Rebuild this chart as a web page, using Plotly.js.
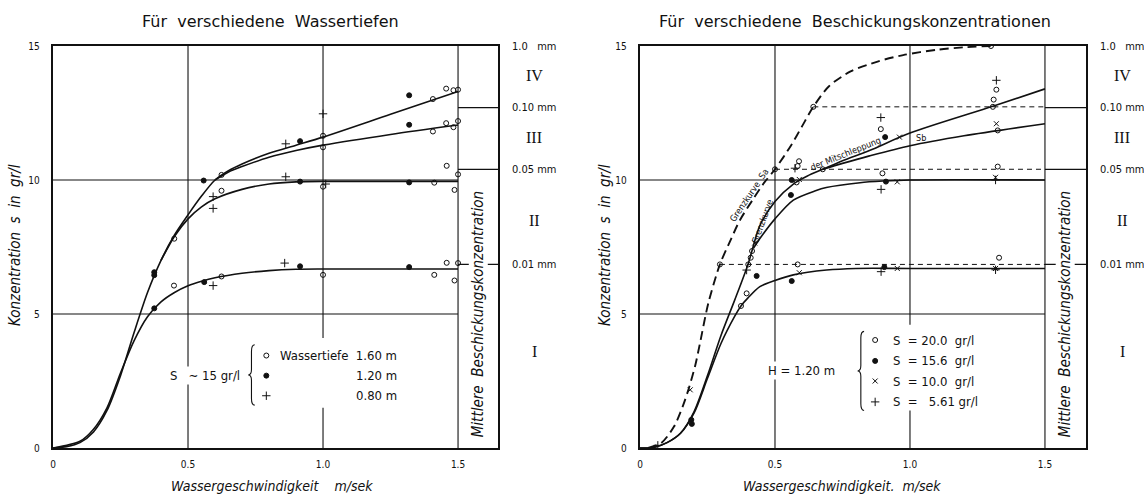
<!DOCTYPE html>
<html><head><meta charset="utf-8">
<script src="https://cdn.plot.ly/plotly-3.0.1.min.js"></script>
<style>body{margin:0;background:#fff}#chart{width:1144px;height:495px}</style>
</head><body><div id="chart"></div>
<script>
// ---------- DATA ----------
const xTickVals = [0, 0.5, 1.0, 1.5];
const xTickText = ["0", "0.5", "1.0", "1.5"];
const yTickVals = [0, 5, 10, 15];
const yTickText = ["0", "5", "10", "15"];

const sizeLevels = [15, 12.7, 10.4, 6.85];
const sizeLabels = ["1.0\u00a0\u00a0\u00a0mm", "0.10 mm", "0.05 mm", "0.01 mm"];
const zoneLevels = [13.9, 11.6, 8.5, 3.6];
const zoneLabels = ["IV", "III", "II", "I"];

// Left panel curves
const leftA_x = [0, 0.05, 0.1, 0.15, 0.2, 0.25, 0.3, 0.35, 0.4, 0.45, 0.5, 0.55, 0.6, 0.65, 0.7, 0.8, 0.9, 1.0, 1.25, 1.5];
const leftA_y = [0, 0.05, 0.2, 0.6, 1.4, 2.7, 4.3, 5.8, 7.0, 7.95, 8.7, 9.4, 10.0, 10.35, 10.6, 11.0, 11.3, 11.6, 12.45, 13.3];
const leftA2_x = [0.6, 0.65, 0.7, 0.8, 0.9, 1.0, 1.25, 1.5];
const leftA2_y = [10.0, 10.3, 10.5, 10.85, 11.1, 11.3, 11.7, 12.05];
const leftB_x = [0.4, 0.45, 0.5, 0.55, 0.6, 0.7, 0.8, 0.9, 1.0, 1.5];
const leftB_y = [7.0, 7.9, 8.55, 9.0, 9.3, 9.65, 9.85, 9.93, 9.95, 9.95];
const leftC_x = [0, 0.1, 0.15, 0.2, 0.25, 0.3, 0.35, 0.4, 0.45, 0.5, 0.55, 0.6, 0.7, 0.8, 0.9, 1.0, 1.5];
const leftC_y = [0, 0.25, 0.7, 1.5, 2.8, 4.0, 4.9, 5.45, 5.8, 6.05, 6.22, 6.35, 6.52, 6.62, 6.67, 6.68, 6.68];

// Left panel points
const depth160_x = [0.449, 0.448, 0.624, 0.624, 0.624, 1.0, 1.0, 1.0, 1.0, 1.407, 1.456, 1.483, 1.5, 1.407, 1.456, 1.483, 1.5, 1.412, 1.458, 1.5, 1.487, 1.412, 1.458, 1.5, 1.487];
const depth160_y = [7.81, 6.06, 10.19, 9.6, 6.4, 11.65, 11.22, 9.75, 6.46, 13.02, 13.41, 13.35, 13.37, 11.81, 12.12, 11.97, 12.2, 9.9, 10.53, 10.21, 9.63, 6.46, 6.91, 6.9, 6.25];
const depth120_x = [0.375, 0.375, 0.375, 0.558, 0.56, 0.915, 0.915, 0.915, 1.319, 1.319, 1.319, 1.319];
const depth120_y = [6.56, 6.45, 5.21, 9.98, 6.19, 11.45, 9.94, 6.78, 13.16, 12.06, 9.91, 6.75];
const depth080_x = [0.593, 0.593, 0.593, 0.862, 0.862, 0.858, 1.0, 1.01];
const depth080_y = [9.38, 8.94, 6.06, 11.35, 10.12, 6.9, 12.47, 9.85];

// Right panel curves
const rightU_x = [0, 0.05, 0.1, 0.15, 0.2, 0.25, 0.3, 0.35, 0.4, 0.444, 0.5, 0.568, 0.62, 0.677, 0.75, 0.85, 1.0, 1.307, 1.5];
const rightU_y = [0, 0.02, 0.2, 0.55, 1.35, 2.7, 4.2, 5.5, 6.85, 8.3, 9.2, 9.85, 10.15, 10.4, 10.72, 11.1, 11.75, 12.75, 13.4];
const rightU2_x = [0.677, 0.75, 0.85, 1.0, 1.2, 1.5];
const rightU2_y = [10.4, 10.62, 10.9, 11.28, 11.65, 12.1];
const rightM_x = [0.42, 0.45, 0.5, 0.568, 0.65, 0.69, 0.815, 0.9, 1.0, 1.5];
const rightM_y = [7.45, 7.9, 8.55, 9.25, 9.6, 9.72, 9.9, 9.96, 10.0, 10.0];
const rightL_x = [0, 0.05, 0.1, 0.15, 0.2, 0.25, 0.3, 0.35, 0.374, 0.4, 0.444, 0.5, 0.568, 0.691, 0.8, 1.0, 1.5];
const rightL_y = [0, 0.02, 0.2, 0.55, 1.3, 2.6, 3.9, 4.9, 5.3, 5.6, 6.02, 6.25, 6.46, 6.64, 6.7, 6.7, 6.7];
const rightSa_x = [0.03, 0.08, 0.126, 0.16, 0.18, 0.205, 0.222, 0.253, 0.296, 0.333, 0.37, 0.42, 0.46, 0.5, 0.56, 0.6, 0.642, 0.7, 0.78, 0.88, 0.975, 1.1, 1.2, 1.3];
const rightSa_y = [0, 0.2, 0.8, 1.6, 2.2, 3.1, 3.9, 5.4, 6.85, 7.7, 8.5, 9.3, 9.9, 10.4, 11.3, 12.0, 12.73, 13.5, 14.05, 14.42, 14.66, 14.86, 14.95, 15.0];
const dashLevels = [6.85, 10.4, 12.73];
const dashStarts = [0.296, 0.5, 0.642];

// Right panel points
const s200_x = [0.296, 0.401, 0.5, 0.677, 0.642, 1.307, 1.30, 0.374, 0.395, 0.41, 0.415, 0.58, 0.584, 0.589, 0.584, 0.898, 0.892, 1.32, 1.31, 1.325, 1.325, 1.33];
const s200_y = [6.85, 6.85, 10.4, 10.4, 12.73, 12.73, 15.0, 5.3, 5.77, 7.1, 7.35, 9.91, 10.52, 10.7, 6.85, 10.25, 11.9, 13.37, 13.0, 11.85, 10.5, 7.1];
const s156_x = [0.19, 0.192, 0.432, 0.559, 0.562, 0.562, 0.908, 0.911, 0.905];
const s156_y = [1.05, 0.9, 6.42, 9.44, 10.0, 6.23, 11.6, 9.94, 6.75];
const s100_x = [0.186, 0.425, 0.59, 0.59, 0.961, 0.953, 0.953, 1.317, 1.317, 1.32];
const s100_y = [2.17, 7.65, 10.02, 6.54, 11.6, 9.93, 6.7, 10.1, 6.7, 12.1];
const s561_x = [0.066, 0.395, 0.574, 0.893, 0.892, 0.893, 1.32, 1.317, 1.317];
const s561_y = [0.1, 6.64, 10.44, 9.65, 12.33, 6.58, 13.72, 10.0, 6.65];

// ---------- STYLE / LAYOUT ----------
const W = 1144, H = 495;
const FONT = "DejaVu Sans Condensed, DejaVu Sans, sans-serif";
const FONTW = "DejaVu Sans, sans-serif";
const SERIF = "Liberation Serif, DejaVu Serif, serif";
const XR = [0, 1.648];
const XR2 = [0, 1.652];
const black = "#111";
const panels = [{left: 53, right: 498}, {left: 640, right: 1086}];
const plotTop = 46, plotBottom = 448;
const yPix = v => plotBottom - v * (plotBottom - plotTop) / 15;
const px = v => v / W, py = v => 1 - v / H;

function line(x, y, xa, ya, dash, w) {
  return {x, y, xaxis: xa, yaxis: ya, mode: "lines", type: "scatter", hoverinfo: "skip",
    line: {color: black, width: w || 1.6, dash: dash || "solid", shape: "spline", smoothing: 0.8}, showlegend: false};
}
function pts(x, y, xa, ya, sym, size, lw) {
  return {x, y, xaxis: xa, yaxis: ya, mode: "markers", type: "scatter", hoverinfo: "skip", showlegend: false,
    marker: {symbol: sym, size: size, color: black, line: {color: black, width: lw || 1}}};
}

const traces = [];
traces.push(line(leftA_x, leftA_y, "x", "y"));
traces.push(line(leftA2_x, leftA2_y, "x", "y"));
traces.push(line(leftB_x, leftB_y, "x", "y"));
traces.push(line(leftC_x, leftC_y, "x", "y"));
traces.push(pts(depth160_x, depth160_y, "x", "y", "circle-open", 5, 1));
traces.push(pts(depth120_x, depth120_y, "x", "y", "circle", 5, 0));
traces.push(pts(depth080_x, depth080_y, "x", "y", "cross-thin-open", 6, 1));

traces.push(line(rightU_x, rightU_y, "x2", "y2"));
traces.push(line(rightU2_x, rightU2_y, "x2", "y2"));
traces.push(line(rightM_x, rightM_y, "x2", "y2"));
traces.push(line(rightL_x, rightL_y, "x2", "y2"));
traces.push(line(rightSa_x, rightSa_y, "x2", "y2", "9px,5px", 1.9));
dashLevels.forEach((lv, i) => {
  traces.push({x: [dashStarts[i], 1.5], y: [lv, lv], xaxis: "x2", yaxis: "y2", mode: "lines", type: "scatter",
    hoverinfo: "skip", showlegend: false, line: {color: black, width: 1, dash: "5px,4px"}});
});
traces.push(pts(s200_x, s200_y, "x2", "y2", "circle-open", 5, 1));
traces.push(pts(s156_x, s156_y, "x2", "y2", "circle", 5, 0));
traces.push(pts(s100_x, s100_y, "x2", "y2", "x-thin-open", 5, 1));
traces.push(pts(s561_x, s561_y, "x2", "y2", "cross-thin-open", 6, 1));

const legL = {x: 0.79, ys: [3.45, 2.7, 1.95]};
const legR = {x: 0.871, ys: [4.03, 3.25, 2.5, 1.72]};
traces.push(pts([legL.x], [legL.ys[0]], "x", "y", "circle-open", 5, 1));
traces.push(pts([legL.x], [legL.ys[1]], "x", "y", "circle", 5, 0));
traces.push(pts([legL.x], [legL.ys[2]], "x", "y", "cross-thin-open", 6, 1));
traces.push(pts([legR.x], [legR.ys[0]], "x2", "y2", "circle-open", 5, 1));
traces.push(pts([legR.x], [legR.ys[1]], "x2", "y2", "circle", 5, 0));
traces.push(pts([legR.x], [legR.ys[2]], "x2", "y2", "x-thin-open", 5, 1));
traces.push(pts([legR.x], [legR.ys[3]], "x2", "y2", "cross-thin-open", 6, 1));

const shapes = [];
const annotations = [];

function brace(xr, x0, ybot, ytop, w) {
  const ym = (ybot + ytop) / 2;
  const p = `M ${x0 + w},${ytop} Q ${x0},${ytop} ${x0},${ytop - 0.25} L ${x0},${ym + 0.2} Q ${x0},${ym} ${x0 - w},${ym} ` +
    `Q ${x0},${ym} ${x0},${ym - 0.2} L ${x0},${ybot + 0.25} Q ${x0},${ybot} ${x0 + w},${ybot}`;
  return {type: "path", xref: xr, yref: xr === "x" ? "y" : "y2", path: p, line: {color: black, width: 1.1}};
}

[["x", "y", XR[1], panels[0]], ["x2", "y2", XR2[1], panels[1]]].forEach(([xr, yr, xmax, pan]) => {
  [0.5, 1.0, 1.5].forEach(v => shapes.push({type: "line", xref: xr, yref: yr, x0: v, x1: v, y0: 0, y1: 15,
    layer: "below", line: {color: black, width: 1.1}}));
  [5, 10].forEach(v => shapes.push({type: "line", xref: xr, yref: yr, x0: 0, x1: 1.5, y0: v, y1: v,
    layer: "below", line: {color: black, width: 1.1}}));
  sizeLevels.slice(1).forEach(v => shapes.push({type: "line", xref: xr, yref: yr, x0: 1.5, x1: xmax, y0: v, y1: v,
    layer: "below", line: {color: black, width: 1.3}}));
  sizeLevels.forEach((v, i) => annotations.push({xref: "paper", yref: "paper", x: px(pan.right + 12), y: py(yPix(v)),
    text: sizeLabels[i], showarrow: false, xanchor: "left", yanchor: "middle",
    font: {family: FONT, size: 11, color: black}}));
  zoneLevels.forEach((v, i) => annotations.push({xref: "paper", yref: "paper", x: px(pan.right + 36), y: py(yPix(v)),
    text: zoneLabels[i], showarrow: false, xanchor: "center", yanchor: "middle",
    font: {family: SERIF, size: 16, color: black}}));
  annotations.push({xref: xr, yref: yr, x: 1.575, y: 5.0, text: "Mittlere\u00a0\u00a0Beschickungskonzentration",
    textangle: -90, showarrow: false, bgcolor: "#fff", borderpad: 0, xanchor: "center", yanchor: "middle",
    font: {family: FONT, size: 15, color: black, style: "italic"}});
});

shapes.push({type: "rect", xref: "x", yref: "y", x0: 0.75, x1: 1.3, y0: 1.5, y1: 4.1, layer: "below",
  fillcolor: "#fff", line: {width: 0}});
shapes.push({type: "rect", xref: "x2", yref: "y2", x0: 0.83, x1: 1.3, y0: 1.4, y1: 4.6, layer: "below",
  fillcolor: "#fff", line: {width: 0}});
shapes.push(brace("x", 0.735, 1.6, 3.85, 0.012));
shapes.push(brace("x2", 0.818, 1.4, 4.35, 0.012));

const lgFont = {family: FONT, size: 13, color: black};
const ann = o => annotations.push(Object.assign({showarrow: false, xanchor: "center", yanchor: "middle"}, o));
ann({xref: "x", yref: "y", x: 1.28, y: legL.ys[0], xanchor: "right", text: "Wassertiefe\u00a0 1.60 m", font: lgFont});
ann({xref: "x", yref: "y", x: 1.28, y: legL.ys[1], xanchor: "right", text: "1.20 m", font: lgFont});
ann({xref: "x", yref: "y", x: 1.28, y: legL.ys[2], xanchor: "right", text: "0.80 m", font: lgFont});
ann({xref: "x", yref: "y", x: 0.7, y: 2.7, xanchor: "right", text: "S\u00a0\u00a0\u00a0∼ 15 gr/l", font: lgFont, bgcolor: "#fff"});

const rLeg = ["S\u00a0\u00a0=\u00a020.0\u00a0\u00a0gr/l", "S\u00a0\u00a0=\u00a015.6\u00a0\u00a0gr/l",
  "S\u00a0\u00a0=\u00a010.0\u00a0\u00a0gr/l", "S\u00a0\u00a0=\u00a0\u00a0\u00a05.61\u00a0gr/l"];
rLeg.forEach((t, i) => ann({xref: "x2", yref: "y2", x: 0.93, y: legR.ys[i], xanchor: "left", text: t, font: lgFont}));
ann({xref: "x2", yref: "y2", x: 0.6, y: 2.88, text: "H = 1.20 m", font: lgFont, bgcolor: "#fff"});

const cl = {family: FONT, size: 9, color: black};
ann({xref: "x2", yref: "y2", x: 0.405, y: 9.45, text: "Grenzkurve\u00a0 Sa", textangle: -56, font: cl});
ann({xref: "x2", yref: "y2", x: 0.452, y: 8.45, text: "Grenzkurve", textangle: -70, font: cl});
ann({xref: "x2", yref: "y2", x: 0.76, y: 10.98, text: "der Mitschleppung", textangle: -22, font: cl});
ann({xref: "x2", yref: "y2", x: 1.04, y: 11.55, text: "Sb", font: cl});

const tF = {family: FONTW, size: 16, color: black};
ann({xref: "paper", yref: "paper", x: px(270), y: py(21), text: "Für\u00a0\u00a0verschiedene\u00a0\u00a0Wassertiefen", font: tF});
ann({xref: "paper", yref: "paper", x: px(855), y: py(21), text: "Für\u00a0\u00a0verschiedene\u00a0\u00a0Beschickungskonzentrationen", font: tF});
const itF = {family: FONT, size: 14, color: black, style: "italic"};
ann({xref: "paper", yref: "paper", x: px(272), y: py(486), text: "Wassergeschwindigkeit\u00a0\u00a0\u00a0\u00a0m/sek", font: itF});
ann({xref: "paper", yref: "paper", x: px(842), y: py(486), text: "Wassergeschwindigkeit.\u00a0\u00a0m/sek", font: itF});
const yF = {family: FONT, size: 15, color: black, style: "italic"};
ann({xref: "paper", yref: "paper", x: px(15), y: py(245), textangle: -90, text: "Konzentration\u00a0\u00a0s\u00a0\u00a0in\u00a0\u00a0gr/l", font: yF});
ann({xref: "paper", yref: "paper", x: px(605), y: py(245), textangle: -90, text: "Konzentration\u00a0\u00a0s\u00a0\u00a0in\u00a0\u00a0gr/l", font: yF});

const tickFont = {family: FONT, size: 10, color: black};
function xax(dom, rng, anchor) {
  return {domain: dom, range: rng, anchor: anchor, showgrid: false, zeroline: false, showline: true, mirror: true,
    linecolor: black, linewidth: 2.2, ticks: "", tickvals: xTickVals, ticktext: xTickText, tickfont: tickFont,
    ticklabelstandoff: 6, fixedrange: true};
}
function yax(anchor) {
  return {domain: [(H - plotBottom) / H, (H - plotTop) / H], range: [0, 15], anchor: anchor, showgrid: false, zeroline: false,
    showline: true, mirror: true, linecolor: black, linewidth: 2.2, ticks: "", tickvals: yTickVals,
    ticktext: yTickText, tickfont: tickFont, ticklabelstandoff: 9, fixedrange: true};
}

const layout = {
  width: W, height: H, margin: {l: 0, r: 0, t: 0, b: 0}, paper_bgcolor: "#fff", plot_bgcolor: "#fff",
  showlegend: false,
  xaxis: xax([panels[0].left / W, panels[0].right / W], XR, "y"),
  yaxis: yax("x"),
  xaxis2: xax([panels[1].left / W, panels[1].right / W], XR2, "y2"),
  yaxis2: yax("x2"),
  shapes, annotations
};

Plotly.newPlot("chart", traces, layout, {staticPlot: true, displayModeBar: false});
</script></body></html>
